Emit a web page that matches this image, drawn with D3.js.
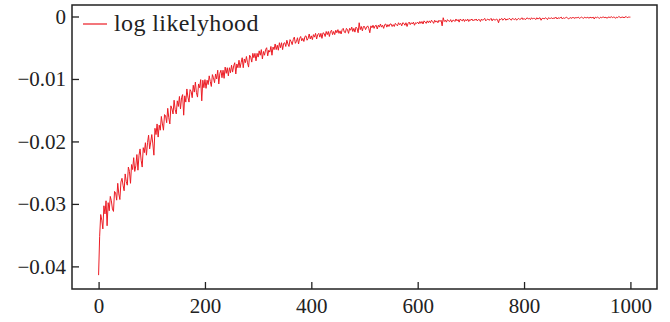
<!DOCTYPE html>
<html>
<head>
<meta charset="utf-8">
<script src="https://cdn.jsdelivr.net/npm/d3@7"></script>
<style>
  html, body { margin: 0; padding: 0; background: #fff; }
  svg { display: block; }
  text { font-family: "Liberation Serif", "Times New Roman", serif; fill: #222; }
</style>
</head>
<body>
<svg id="chart" width="670" height="322"></svg>
<script>
// iteration step between recorded values
const iterStep = 2;
// log likelihood, in units of 1e-4 (x = 0, 2, 4 ... 1000)
const logLik = [
  -414, -352, -317, -326, -340, -303, -316, -295, -335, -298, -311, -288, -295, -308, -312, -280, -282, -294, -267, -284, -293, -265, -259, -270, -279,
  -252, -264, -270, -241, -248, -267, -237, -245, -226, -248, -239, -221, -246, -222, -212, -230, -241, -210, -218, -202, -222, -202, -190, -212, -201,
  -189, -204, -222, -179, -189, -172, -193, -174, -182, -160, -172, -182, -157, -159, -170, -147, -162, -172, -143, -148, -156, -134, -149, -156, -135,
  -144, -128, -148, -130, -125, -158, -127, -137, -116, -129, -137, -117, -120, -130, -110, -121, -105, -122, -129, -108, -114, -101, -135, -102, -114,
  -101, -115, -102, -109, -95, -104, -112, -93, -98, -106, -92, -100, -86, -108, -91, -86, -98, -86, -99, -81, -91, -82, -95, -82, -90,
  -78, -89, -79, -74, -92, -76, -82, -70, -82, -74, -66, -82, -68, -74, -64, -74, -81, -62, -65, -73, -59, -66, -59, -71, -59,
  -65, -55, -62, -53, -68, -56, -62, -53, -50, -63, -54, -57, -48, -62, -49, -53, -44, -53, -46, -54, -42, -50, -42, -53, -43,
  -42, -48, -38, -44, -48, -37, -40, -45, -37, -33, -43, -40, -34, -44, -35, -32, -39, -35, -40, -32, -31, -38, -35, -28, -36,
  -31, -37, -29, -33, -27, -36, -29, -27, -33, -27, -35, -26, -27, -32, -24, -29, -24, -32, -24, -22, -29, -24, -29, -22, -26,
  -21, -27, -23, -28, -21, -19, -25, -26, -19, -21, -27, -19, -22, -17, -24, -19, -25, -17, -19, -26, -10, -21, -16, -23, -16,
  -16, -21, -17, -15, -19, -26, -15, -18, -14, -19, -15, -14, -20, -14, -17, -12, -17, -14, -19, -13, -12, -17, -13, -16, -12,
  -12, -16, -13, -16, -11, -13, -15, -10, -13, -11, -15, -10, -11, -14, -10, -16, -11, -9, -13, -10, -12, -9, -14, -10, -11,
  -9, -12, -8, -11, -8, -12, -7, -9, -11, -7, -10, -7, -10, -6, -8, -11, -6, -9, -7, -10, -6, -8, -6, -15, -2,
  -8, -6, -9, -5, -7, -8, -5, -9, -6, -6, -8, -4, -7, -5, -9, -4, -6, -7, -4, -8, -5, -7, -4, -8, -5,
  -6, -4, -7, -5, -6, -4, -7, -5, -5, -8, -4, -6, -5, -3, -7, -5, -4, -6, -5, -3, -7, -4, -5, -6, -4,
  -5, -10, -4, -5, -3, -6, -4, -3, -6, -4, -5, -3, -4, -6, -3, -4, -5, -3, -6, -4, -3, -5, -4, -2, -5,
  -3, -5, -4, -2, -4, -3, -5, -2, -4, -3, -3, -5, -2, -4, -3, -2, -6, -3, -3, -4, -2, -3, -5, -2, -3,
  -3, -2, -4, -2, -3, -1, -4, -2, -3, -2, -1, -4, -2, -3, -2, -1, -3, -4, -2, -2, -3, -1, -3, -2, -2,
  -2, -1, -3, -2, -1, -2, -3, -1, -2, -2, -1, -3, -1, -2, -2, -1, -4, -1, -2, -1, -2, -3, -1, -2, -1,
  -1, -2, -1, -3, -1, -1, -2, 0, -2, -1, -1, -3, -1, -2, 0, -1, -2, -1, -1, -2, -1, 0, -2, -1, -1,
  -1
];
const valueUnit = 1e-4;

const xTicks = [0, 200, 400, 600, 800, 1000];
const yTicks = [0, -0.01, -0.02, -0.03, -0.04];
const legendLabel = "log likelyhood";

const svg = d3.select("#chart");
const plot = { left: 72, right: 657, top: 5, bottom: 289 };

const x = d3.scaleLinear().domain([-50, 1050]).range([plot.left, plot.right]);
const y = d3.scaleLinear().domain([-0.04362, 0.00184]).range([plot.bottom, plot.top]);

const data = logLik.map((v, i) => ({ it: i * iterStep, ll: v * valueUnit }));

// series
svg.append("path")
  .datum(data)
  .attr("fill", "none")
  .attr("stroke", "#ec1c24")
  .attr("stroke-width", 1)
  .attr("d", d3.line().x(d => x(d.it)).y(d => y(d.ll)));

// axes, ticks pointing inward
const fmt = d3.format(".2f");
const styleAxis = g => {
  g.select(".domain").remove();
  g.selectAll("line").attr("stroke", "#222").attr("stroke-width", 1.3);
  g.selectAll("text").attr("font-size", 21).attr("fill", "#222")
    .attr("font-family", "'Liberation Serif', serif");
};

svg.append("g")
  .attr("transform", `translate(${plot.left},0)`)
  .call(d3.axisLeft(y).tickValues(yTicks).tickSizeInner(-7).tickSizeOuter(0).tickPadding(6)
    .tickFormat(d => d === 0 ? "0" : fmt(d)))
  .call(styleAxis);

svg.append("g")
  .attr("transform", `translate(0,${plot.bottom})`)
  .call(d3.axisBottom(x).tickValues(xTicks).tickSizeInner(-7).tickSizeOuter(0).tickPadding(9)
    .tickFormat(d3.format("d")))
  .call(styleAxis);

// frame
svg.append("rect")
  .attr("x", plot.left).attr("y", plot.top)
  .attr("width", plot.right - plot.left).attr("height", plot.bottom - plot.top)
  .attr("fill", "none").attr("stroke", "#222").attr("stroke-width", 1.5);

// legend
const legend = svg.append("g").attr("transform", "translate(83,24)");
legend.append("line").attr("x1", 0).attr("x2", 24).attr("y1", 0).attr("y2", 0)
  .attr("stroke", "#ec1c24").attr("stroke-width", 1.2);
legend.append("text").attr("x", 31).attr("y", 7).attr("font-size", 24)
  .attr("letter-spacing", 0.4).text(legendLabel);
</script>
</body>
</html>
